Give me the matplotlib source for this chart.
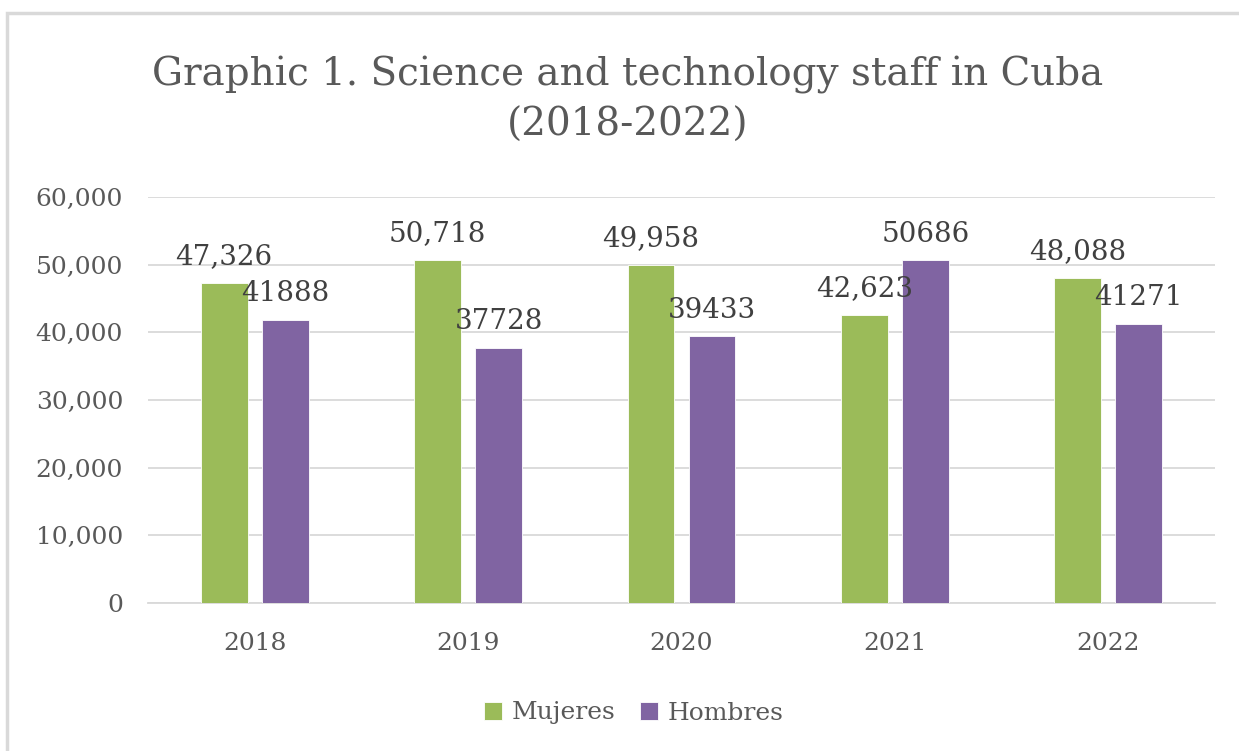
import matplotlib
matplotlib.use("Agg")
import matplotlib.pyplot as plt
from matplotlib.patches import Rectangle
from matplotlib.ticker import FuncFormatter
import numpy as np

years = ["2018", "2019", "2020", "2021", "2022"]
mujeres = [47326, 50718, 49958, 42623, 48088]
hombres = [41888, 37728, 39433, 50686, 41271]
mujeres_labels = ["47,326", "50,718", "49,958", "42,623", "48,088"]
hombres_labels = ["41888", "37728", "39433", "50686", "41271"]

GREEN = "#9BBB59"
PURPLE = "#8064A2"
TXT = "#595959"
GRID = "#D9D9D9"
FONT = "DejaVu Serif"

fig = plt.figure(figsize=(12.39, 7.51), dpi=100)
W, H = 1239, 751
# outer chart border
fig.patches.append(Rectangle((7 / W, 0 - 0.01), 1.02, 1 - 13 / H + 0.01,
                             transform=fig.transFigure, fill=False,
                             edgecolor="#D9D9D9", linewidth=2.5))

ax = fig.add_axes([148 / W, 1 - 603 / H, (1215 - 148) / W, (603 - 197) / H])
x = np.arange(len(years))
bw = 0.22
off = 0.143
b1 = ax.bar(x - off, mujeres, bw, color=GREEN, edgecolor="white", linewidth=0.6, zorder=3, label="Mujeres")
b2 = ax.bar(x + off, hombres, bw, color=PURPLE, edgecolor="white", linewidth=0.6, zorder=3, label="Hombres")

for xi, v, lab in zip(x, mujeres, mujeres_labels):
    ax.annotate(lab, (xi - off, v), xytext=(0, 9), textcoords="offset points",
                ha="center", va="bottom", fontsize=20, color="#404040", family=FONT, zorder=5)
for xi, v, lab in zip(x, hombres, hombres_labels):
    ax.annotate(lab, (xi + off, v), xytext=(0, 9), textcoords="offset points",
                ha="center", va="bottom", fontsize=20, color="#404040", family=FONT, zorder=5)

ax.set_xlim(-0.5, len(years) - 0.5)
ax.set_ylim(0, 60000)
ax.set_yticks(np.arange(0, 60001, 10000))
ax.yaxis.set_major_formatter(FuncFormatter(lambda v, p: f"{int(v):,}"))
ax.set_xticks(x)
ax.set_xticklabels(years)
ax.grid(axis="y", color=GRID, linewidth=1.3, zorder=0)
ax.set_axisbelow(True)
for s in ["top", "right", "left"]:
    ax.spines[s].set_visible(False)
ax.spines["bottom"].set_color(GRID)
ax.spines["bottom"].set_linewidth(1.3)
ax.tick_params(axis="both", length=0, labelsize=18, labelcolor=TXT)
ax.tick_params(axis="y", pad=18)
ax.tick_params(axis="x", pad=21)
for t in ax.get_xticklabels() + ax.get_yticklabels():
    t.set_family(FONT)

fig.text(628 / W, 1 - 100 / H, "Graphic 1. Science and technology staff in Cuba\n(2018-2022)",
         ha="center", va="center", fontsize=28, color=TXT, family=FONT, linespacing=1.45)

leg = fig.legend(handles=[b1, b2], labels=["Mujeres", "Hombres"], loc="center",
                 bbox_to_anchor=(634 / W, 1 - 713 / H), ncol=2, frameon=False,
                 prop={"family": FONT, "size": 18}, handlelength=0.7, handleheight=0.7,
                 handletextpad=0.4, columnspacing=1.0)
for t in leg.get_texts():
    t.set_color(TXT)

fig.savefig("out.png", dpi=100, facecolor="white")
